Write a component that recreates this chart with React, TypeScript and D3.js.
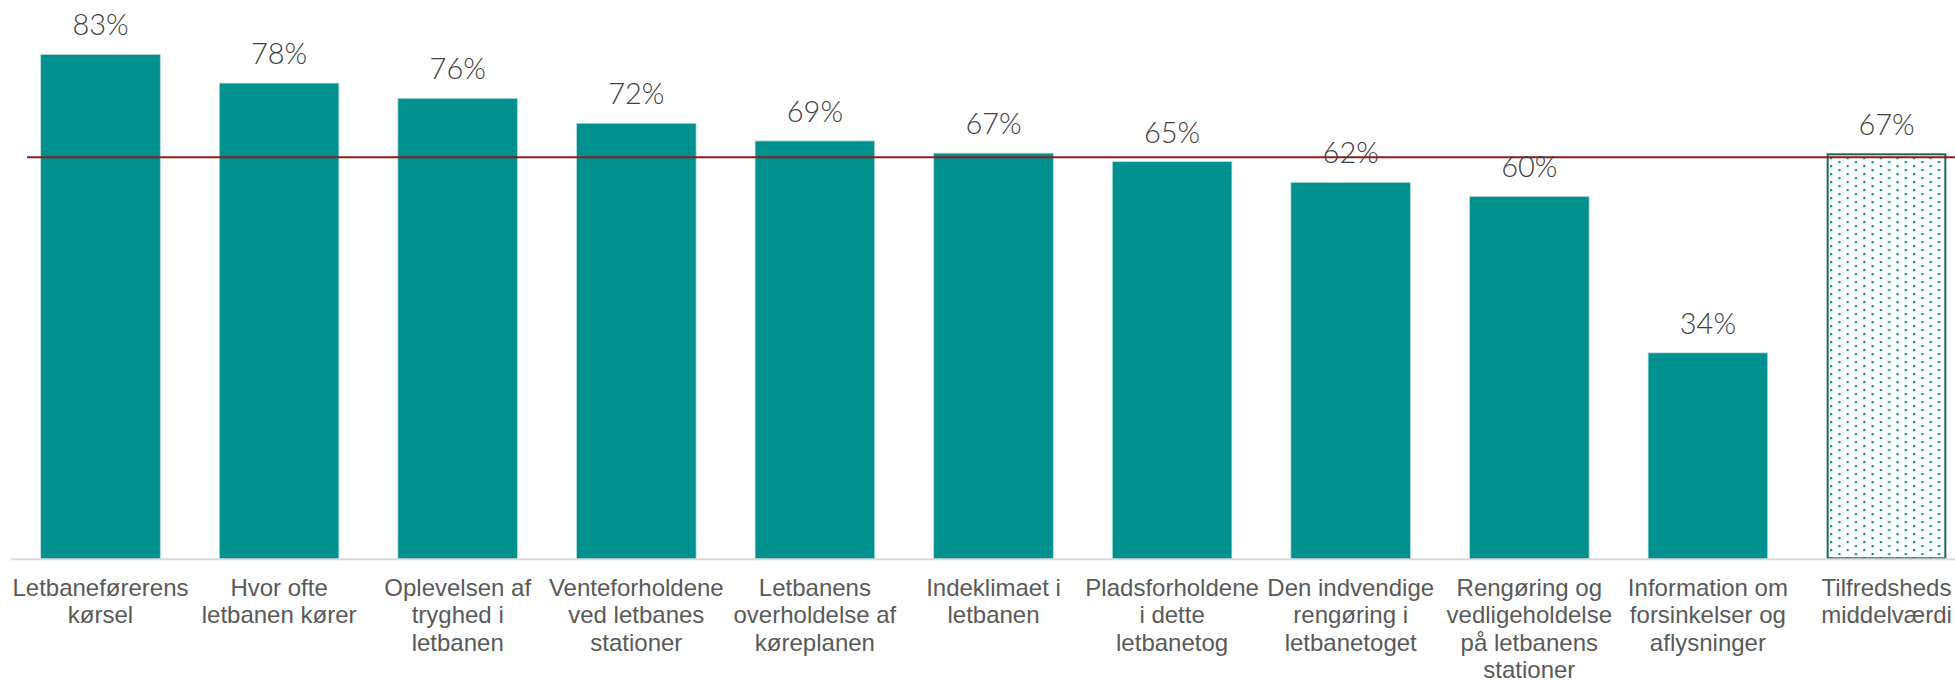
import React, { useEffect } from "react";
import * as d3 from "d3";

const categories: string[][] = [
  ["Letbaneførerens", "kørsel"],
  ["Hvor ofte", "letbanen kører"],
  ["Oplevelsen af", "tryghed i", "letbanen"],
  ["Venteforholdene", "ved letbanes", "stationer"],
  ["Letbanens", "overholdelse af", "køreplanen"],
  ["Indeklimaet i", "letbanen"],
  ["Pladsforholdene", "i dette", "letbanetog"],
  ["Den indvendige", "rengøring i", "letbanetoget"],
  ["Rengøring og", "vedligeholdelse", "på letbanens", "stationer"],
  ["Information om", "forsinkelser og", "aflysninger"],
  ["Tilfredsheds", "middelværdi"],
];

const values: number[] = [82.9, 78.2, 75.7, 71.6, 68.7, 66.7, 65.3, 61.9, 59.6, 33.9, 66.5];
const meanLine = 66.0;
const averageIndex = 10;

const W = 1955;
const H = 680;

export default function App() {
  useEffect(() => {
    document.body.style.margin = "0";
  }, []);

  const keys = categories.map((c) => c.join(" "));
  const x = d3
    .scaleBand<string>()
    .domain(keys)
    .range([11.2, 1975.8])
    .paddingInner(0.33)
    .paddingOuter(0.165);
  const y = d3.scaleLinear().domain([0, 90]).range([559.3, 11.2]);
  const bw = x.bandwidth();

  return (
    <svg
      width={W}
      height={H}
      style={{ position: "absolute", left: 0, top: 0, display: "block", background: "#fff" }}
    >
      <defs>
        <pattern id="dots" patternUnits="userSpaceOnUse" width={16.6} height={8} x={1830} y={157}>
          <rect x={0} y={0} width={16.6} height={8} fill="#ffffff" />
          <rect x={0} y={0} width={2.2} height={2.2} fill="#00958f" />
          <rect x={8.3} y={4} width={2.2} height={2.2} fill="#00958f" />
        </pattern>
      </defs>

      {values.map((v, i) => {
        const bx = x(keys[i])!;
        const top = y(v);
        const h = y(0) - top;
        if (i === averageIndex) {
          return (
            <rect
              key={i}
              x={bx + 1}
              y={top}
              width={bw - 2}
              height={h - 1}
              fill="url(#dots)"
              stroke="#1e665e"
              strokeWidth={2}
            />
          );
        }
        return (
          <rect
            key={i}
            x={bx}
            y={top}
            width={bw}
            height={h}
            fill="#00918f"
            stroke="#b9e0de"
            strokeWidth={0.8}
          />
        );
      })}

      {/* axis line */}
      <line x1={11} x2={W} y1={y(0)} y2={y(0)} stroke="#d9d9d9" strokeWidth={2} />

      {/* mean reference line */}
      <line x1={27} x2={W} y1={y(meanLine)} y2={y(meanLine)} stroke="#8b1e1e" strokeWidth={2} />

      {/* value labels */}
      {values.map((v, i) => (
        <text
          key={"v" + i}
          x={x(keys[i])! + bw / 2}
          y={y(v) - 19}
          textAnchor="middle"
          fontFamily="Lato, 'Open Sans', sans-serif"
          fontWeight={300}
          fontSize={29}
          fill="#404040"
        >
          {Math.round(v) + "%"}
        </text>
      ))}

      {/* category labels */}
      {categories.map((lines, i) => (
        <text
          key={"c" + i}
          x={x(keys[i])! + bw / 2}
          y={596}
          textAnchor="middle"
          fontFamily="'Liberation Sans', Arial, sans-serif"
          fontSize={24}
          fill="#595959"
        >
          {lines.map((l, j) => (
            <tspan key={j} x={x(keys[i])! + bw / 2} dy={j === 0 ? 0 : 27.3}>
              {l}
            </tspan>
          ))}
        </text>
      ))}
    </svg>
  );
}
